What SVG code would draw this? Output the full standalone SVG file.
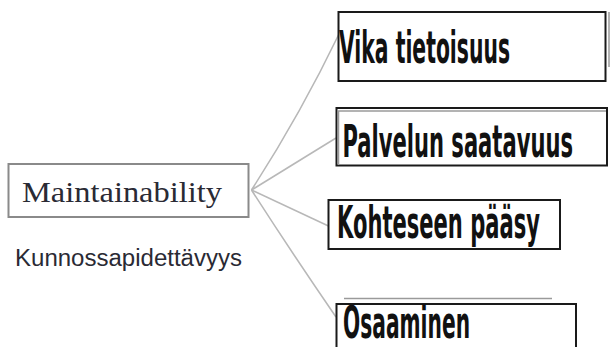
<svg xmlns="http://www.w3.org/2000/svg" width="610" height="347" viewBox="0 0 610 347">
<style>
.box{fill:#fff;stroke:#1a1a1a;stroke-width:2}
.main{fill:#fff;stroke:#8a8a8a;stroke-width:2}
.lbl{font-family:"DejaVu Sans Condensed","DejaVu Sans",sans-serif;font-stretch:condensed;font-weight:bold;font-size:44px;fill:#111}
.conn{stroke:#b8b8b8;stroke-width:1.6;fill:none}
.ghost{stroke:#9a9a9a;stroke-width:1.5;fill:none}
</style>
<rect width="610" height="347" fill="#fff"/>
<g id="connectors">
<path class="conn" d="M251.5,190 Q300,115 339.5,33"/>
<path class="conn" d="M251.5,190 L336,138"/>
<path class="conn" d="M251.5,190 L337,230"/>
<path class="conn" d="M251.5,190 Q290,250 336,317"/>
</g>
<g id="maintainability">
<rect class="main" x="8.5" y="164" width="240" height="53"/>
<text x="22" y="202" font-family="Liberation Serif, serif" font-size="30" fill="#2a2a34" textLength="200" lengthAdjust="spacingAndGlyphs">Maintainability</text>
</g>
<g id="kunnossapidettavyys">
<text x="15" y="266" font-family="Liberation Sans, Arial, sans-serif" font-size="23" fill="#2a2a34" textLength="227" lengthAdjust="spacingAndGlyphs">Kunnossapidettävyys</text>
</g>
<g id="vika">
<line class="ghost" x1="609" y1="12" x2="609" y2="67" stroke="#666"/>
<rect class="box" x="338.5" y="12" width="267" height="69"/>
<text class="lbl" transform="translate(339,63) scale(0.55,1)" x="0" y="0" textLength="311" lengthAdjust="spacingAndGlyphs">Vika tietoisuus</text>
</g>
<g id="palvelun">
<rect class="box" x="336.5" y="108" width="270.5" height="57.5"/>
<path class="ghost" d="M338.5,165 V111 H606"/>
<text class="lbl" transform="translate(342.5,156.5) scale(0.55,1)" x="0" y="0" textLength="419" lengthAdjust="spacingAndGlyphs">Palvelun saatavuus</text>
</g>
<g id="kohteseen">
<rect class="box" x="328.5" y="200" width="231.5" height="49"/>
<text class="lbl" transform="translate(337,238) scale(0.55,1)" x="0" y="0" textLength="369" lengthAdjust="spacingAndGlyphs">Kohteseen pääsy</text>
</g>
<g id="osaaminen">
<line class="ghost" x1="344" y1="298.5" x2="552" y2="298.5"/>
<rect class="box" x="336.5" y="304" width="239.5" height="50"/>
<text class="lbl" transform="translate(343,337.5) scale(0.55,1)" x="0" y="0" font-size="40" textLength="231" lengthAdjust="spacingAndGlyphs">Osaaminen</text>
</g>
</svg>
